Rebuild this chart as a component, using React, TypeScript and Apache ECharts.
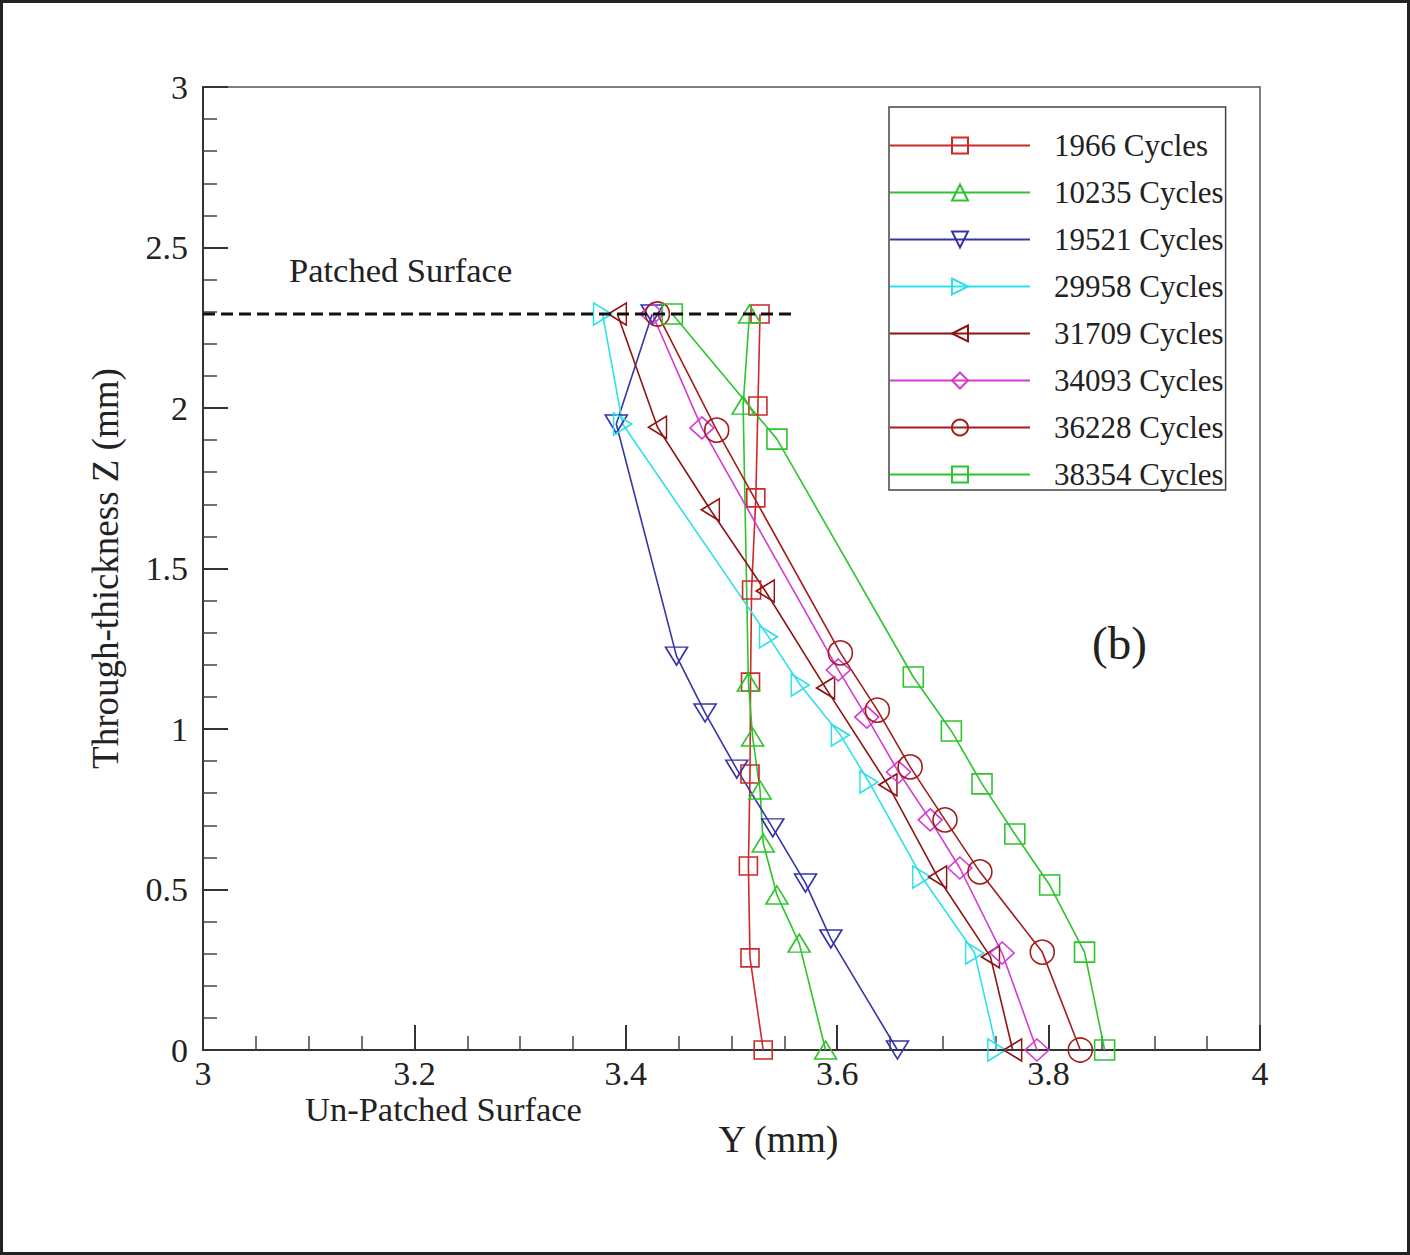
import React, { useEffect, useRef } from "react";
import * as echarts from "echarts";

const FONT = "'Liberation Serif', 'Times New Roman', serif";

const seriesNames = [
  "1966 Cycles",
  "10235 Cycles",
  "19521 Cycles",
  "29958 Cycles",
  "31709 Cycles",
  "34093 Cycles",
  "36228 Cycles",
  "38354 Cycles",
];

const z1966 = [2.293, 2.006, 1.72, 1.433, 1.146, 0.86, 0.573, 0.287, 0];
const y1966 = [3.527, 3.525, 3.523, 3.519, 3.518, 3.5175, 3.516, 3.5175, 3.53];

const z10235 = [2.293, 2.009, 1.146, 0.975, 0.81, 0.645, 0.483, 0.333, 0];
const y10235 = [3.517, 3.511, 3.516, 3.52, 3.527, 3.53, 3.543, 3.564, 3.589];

const z19521 = [2.293, 1.95, 1.227, 1.05, 0.875, 0.692, 0.52, 0.346, 0];
const y19521 = [3.425, 3.391, 3.448, 3.475, 3.505, 3.539, 3.57, 3.594, 3.657];

const z29958 = [2.293, 1.95, 1.287, 1.137, 0.981, 0.835, 0.539, 0.302, 0];
const y29958 = [3.378, 3.397, 3.535, 3.565, 3.603, 3.63, 3.68, 3.73, 3.751];

const z31709 = [2.293, 1.94, 1.683, 1.43, 1.128, 0.826, 0.539, 0.29, 0];
const y31709 = [3.392, 3.43, 3.48, 3.532, 3.589, 3.648, 3.695, 3.745, 3.766];

const z34093 = [2.293, 1.938, 1.184, 1.037, 0.866, 0.717, 0.567, 0.302, 0];
const y34093 = [3.425, 3.472, 3.601, 3.628, 3.658, 3.688, 3.716, 3.756, 3.789];

const z36228 = [2.293, 1.931, 1.237, 1.059, 0.882, 0.717, 0.555, 0.305, 0];
const y36228 = [3.43, 3.486, 3.603, 3.638, 3.669, 3.702, 3.735, 3.794, 3.83];

const z38354 = [2.293, 1.903, 1.162, 0.994, 0.829, 0.673, 0.514, 0.305, 0];
const y38354 = [3.444, 3.543, 3.672, 3.708, 3.737, 3.768, 3.801, 3.834, 3.853];

const patchedLineY = [3.0, 3.562];
const patchedLineZ = [2.293, 2.293];

const seriesZ = [z1966, z10235, z19521, z29958, z31709, z34093, z36228, z38354];
const seriesY = [y1966, y10235, y19521, y29958, y31709, y34093, y36228, y38354];

const colors = ["#cc2a2a", "#2ec42e", "#3535a8", "#30e0e8", "#8e1414", "#d23cd2", "#a41c1c", "#2ec42e"];
const symbols = [
  "rect",
  "path://M5,0L10,10L0,10Z",
  "path://M0,0L10,0L5,10Z",
  "path://M0,0L10,5L0,10Z",
  "path://M10,0L0,5L10,10Z",
  "diamond",
  "circle",
  "rect",
];
const symbolSizes: any[] = [
  [18, 18],
  [22, 18],
  [22, 18],
  [18, 22],
  [18, 22],
  [24, 22],
  [24, 24],
  [20, 20],
];

export default function App() {
  const ref = useRef<HTMLDivElement>(null);
  useEffect(() => {
    if (!ref.current) return;
    const chart = echarts.init(ref.current, undefined, { renderer: "svg" });
    const fmt = (v: number) => String(parseFloat(v.toFixed(2)));
    const series: any[] = seriesNames.map((name, i) => ({
      name,
      type: "line",
      data: seriesZ[i].map((z, k) => [seriesY[i][k], z]),
      symbol: symbols[i],
      symbolSize: symbolSizes[i],
      showAllSymbol: true,
      color: colors[i],
      lineStyle: { color: colors[i], width: 1.6 },
      itemStyle: { color: "rgba(255,255,255,0)", borderColor: colors[i], borderWidth: 1.6 },
      z: 3,
    }));
    series.push({
      name: "Patched Surface Line",
      type: "line",
      data: patchedLineY.map((y, k) => [y, patchedLineZ[k]]),
      symbol: "none",
      lineStyle: { color: "#111", width: 3, type: [12, 6] },
      z: 5,
    });
    chart.setOption({
      animation: false,
      backgroundColor: "#fff",
      grid: {
        left: 203,
        top: 87,
        right: 150,
        bottom: 205,
        show: true,
        borderColor: "#555",
        borderWidth: 1.5,
      },
      xAxis: {
        type: "value",
        min: 3,
        max: 4,
        interval: 0.2,
        name: "Y (mm)",
        nameLocation: "middle",
        nameGap: 70,
        nameTextStyle: { fontFamily: FONT, fontSize: 38, color: "#222", padding: [0, 0, 0, 94] },
        axisLine: { show: true, onZero: false, lineStyle: { color: "#333", width: 2 } },
        axisTick: { show: true, inside: true, length: 25, lineStyle: { color: "#333", width: 2 } },
        minorTick: { show: true, splitNumber: 4, length: 14, lineStyle: { color: "#444", width: 1.5 } },
        splitLine: { show: false },
        axisLabel: { fontFamily: FONT, fontSize: 34, color: "#222", margin: 6, lineHeight: 34, formatter: fmt },
      },
      yAxis: {
        type: "value",
        min: 0,
        max: 3,
        interval: 0.5,
        name: "Through-thickness Z (mm)",
        nameLocation: "middle",
        nameGap: 79,
        nameTextStyle: { fontFamily: FONT, fontSize: 37, color: "#222" },
        axisLine: { show: true, onZero: false, lineStyle: { color: "#333", width: 2 } },
        axisTick: { show: true, inside: true, length: 25, lineStyle: { color: "#333", width: 2 } },
        minorTick: { show: true, splitNumber: 5, length: 14, lineStyle: { color: "#444", width: 1.5 } },
        splitLine: { show: false },
        axisLabel: { fontFamily: FONT, fontSize: 34, color: "#222", margin: 15, formatter: fmt },
      },
      legend: {
        data: seriesNames,
        orient: "vertical",
        left: 889,
        top: 107,
        padding: [23, 2, 0, 0],
        itemGap: 16,
        itemWidth: 140,
        itemHeight: 20,
        borderColor: "#444",
        borderWidth: 1.5,
        backgroundColor: "#fff",
        textStyle: { fontFamily: FONT, fontSize: 31, color: "#222", lineHeight: 30, padding: [0, 0, 0, 19] },
      },
      graphic: [
        {
          type: "rect",
          shape: { x: 1.5, y: 1.5, width: 1407, height: 1252 },
          style: { fill: "none", stroke: "#222", lineWidth: 3 },
          silent: true,
        },
        {
          type: "text",
          left: 289,
          top: 252,
          style: { text: "Patched Surface", fontFamily: FONT, fontSize: 34.5, fill: "#222" },
        },
        {
          type: "text",
          left: 305,
          top: 1091,
          style: { text: "Un-Patched Surface", fontFamily: FONT, fontSize: 34.5, fill: "#222" },
        },
        {
          type: "text",
          left: 1092,
          top: 619,
          style: { text: "(b)", fontFamily: FONT, fontSize: 47, fill: "#222" },
        },
      ],
      series,
    });
    return () => chart.dispose();
  }, []);
  return (
    <div
      ref={ref}
      style={{ position: "fixed", left: 0, top: 0, width: 1410, height: 1255, background: "#fff" }}
    />
  );
}
